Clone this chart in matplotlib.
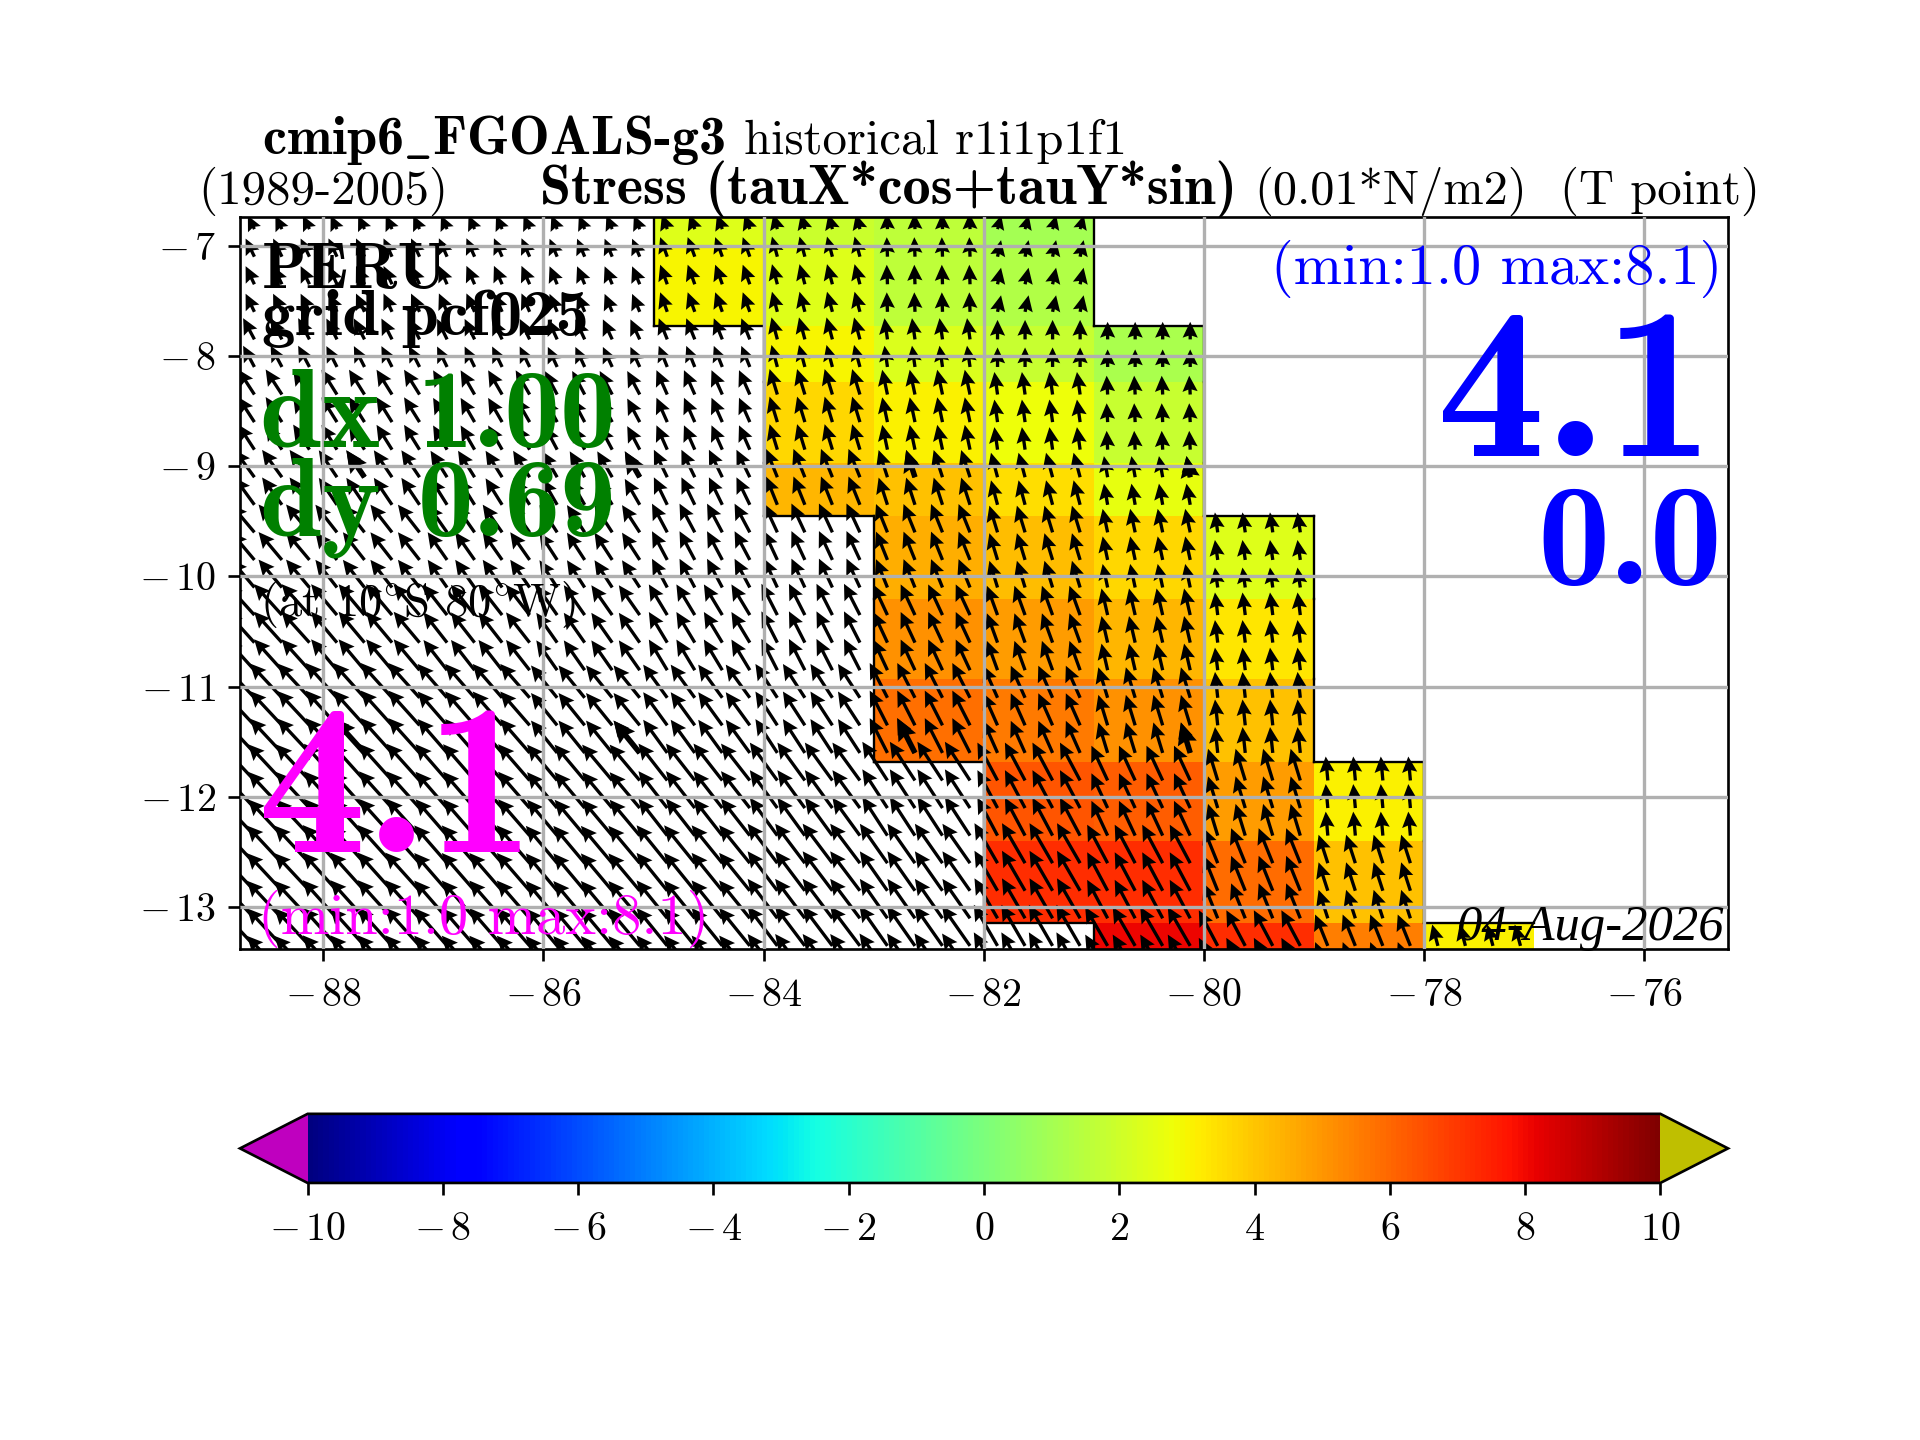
import numpy as np
import matplotlib
matplotlib.use('Agg')
import matplotlib.pyplot as plt

plt.rcParams['font.family'] = 'cmr10'
plt.rcParams['mathtext.fontset'] = 'cm'
plt.rcParams['axes.formatter.use_mathtext'] = True

nan = np.nan

# boites du champ (lon ouest de chaque colonne, bords en latitude)
lon_edges = [-89, -88, -87, -86, -85, -84, -83, -82, -81, -80, -79, -78, -77]
lat_edges = [-6.5, -7.0, -7.733, -8.233, -8.967, -9.456, -10.2, -10.933, -11.678, -12.4, -13.144, -13.5]

# stress le long de la cote (0.01*N/m2)
stress = [
    [nan, nan, nan, nan, 2.4, 1.9, 1.6, 1.0, nan, nan, nan, nan],
    [nan, nan, nan, nan, 3.0, 2.4, 1.6, 1.3, nan, nan, nan, nan],
    [nan, nan, nan, nan, nan, 3.0, 2.3, 1.8, 1.1, nan, nan, nan],
    [nan, nan, nan, nan, nan, 3.6, 3.1, 2.8, 1.8, nan, nan, nan],
    [nan, nan, nan, nan, nan, 4.3, 4.1, 3.5, 2.6, nan, nan, nan],
    [nan, nan, nan, nan, nan, nan, 4.5, 4.2, 3.6, 2.4, nan, nan],
    [nan, nan, nan, nan, nan, nan, 5.1, 4.9, 4.3, 3.3, nan, nan],
    [nan, nan, nan, nan, nan, nan, 5.8, 5.6, 5.1, 4.1, nan, nan],
    [nan, nan, nan, nan, nan, nan, nan, 6.4, 6.2, 4.9, 3.1, nan],
    [nan, nan, nan, nan, nan, nan, nan, 7.2, 7.2, 5.9, 4.1, nan],
    [nan, nan, nan, nan, nan, nan, nan, nan, 8.1, 7.2, 5.5, 3.1],
]

# module et direction des fleches (degres a l'ouest du nord)
arrow_mag = [
    [2.3, 2.3, 2.3, 2.3, 2.4, 2.4, 2.4, 2.2, nan, nan, nan, nan],
    [3.1, 3.1, 3.1, 3.0, 3.2, 3.2, 3.0, 2.6, nan, nan, nan, nan],
    [3.7, 3.6, 3.5, 3.4, 3.5, 3.5, 3.3, 3.0, 2.7, nan, nan, nan],
    [4.6, 4.5, 4.3, 4.1, 4.1, 4.1, 3.9, 3.5, 2.9, nan, nan, nan],
    [5.2, 5.0, 4.8, 4.6, 4.7, 4.7, 4.4, 3.9, 3.3, nan, nan, nan],
    [5.6, 5.4, 5.2, 5.0, 5.0, 4.9, 4.7, 4.3, 3.7, 3.1, nan, nan],
    [6.4, 6.2, 5.9, 5.6, 5.5, 5.4, 5.2, 4.8, 4.2, 3.5, nan, nan],
    [7.2, 7.2, 6.9, 6.4, 6.3, 6.2, 6.0, 5.4, 4.9, 4.0, nan, nan],
    [7.6, 7.6, 7.4, 7.2, 7.2, 7.2, 7.1, 6.6, 5.9, 5.1, 3.7, nan],
    [7.9, 7.9, 7.7, 7.5, 7.5, 7.6, 7.4, 7.1, 6.7, 5.8, 4.6, nan],
    [7.9, 7.9, 7.7, 7.5, 7.5, 7.6, 7.5, 7.3, 6.9, 6.2, 5.2, 3.4],
]
arrow_ang = [
    [26, 25, 24, 23, 20, 15, 2, -15, nan, nan, nan, nan],
    [26, 25, 24, 23, 20, 15, 2, -12, nan, nan, nan, nan],
    [28, 27, 26, 25, 22, 15, 8, 0, 0, nan, nan, nan],
    [33, 32, 30, 28, 24, 17, 12, 8, 3, nan, nan, nan],
    [36, 34, 32, 30, 26, 22, 18, 15, 10, nan, nan, nan],
    [40, 38, 35, 33, 28, 25, 22, 17, 12, 8, nan, nan],
    [42, 40, 38, 35, 31, 27, 25, 20, 13, 7, nan, nan],
    [43, 42, 41, 39, 36, 33, 27, 24, 17, 6, nan, nan],
    [43, 42, 41, 40, 38, 36, 33, 28, 25, 17, 5, nan],
    [43, 42, 41, 40, 39, 37, 35, 30, 28, 22, 18, nan],
    [43, 42, 41, 40, 39, 37, 35, 30, 30, 28, 22, 15],
]

# points des fleches
arrow_lons = np.arange(-88.625, -76.9, 0.25)
arrow_lats = np.arange(-6.85, -13.7, -0.25)
# fleches epaissies
thick_lons = [-87.625, -85.125, -82.625, -80.125]
thick_lats = [-9.1, -11.6]

xticks = [-88, -86, -84, -82, -80, -78, -76]
yticks = [-13, -12, -11, -10, -9, -8, -7]
cbar_ticks = [-10, -8, -6, -4, -2, 0, 2, 4, 6, 8, 10]

stress = np.array(stress)
arrow_mag = np.array(arrow_mag)
arrow_ang = np.array(arrow_ang)
lon_edges = np.array(lon_edges)
lat_edges = np.array(lat_edges)

PX = 6.5  # pixels par unite


def arrow_field(lons, lats):
    ix = np.searchsorted(lon_edges, lons, side='right') - 1
    iy = np.searchsorted(-lat_edges, -np.array(lats), side='right') - 1
    iy = np.clip(iy, 0, len(lat_edges) - 2)
    mag = arrow_mag[np.ix_(iy, ix)]
    ang = np.deg2rad(arrow_ang[np.ix_(iy, ix)])
    X, Y = np.meshgrid(lons, lats)
    return X, Y, -mag * np.sin(ang), mag * np.cos(ang)


def tick_text(v):
    # signe moins plus large, comme en latex
    return rf'$-\,{-v}$' if v < 0 else f'${v}$'


fig = plt.figure(figsize=(8, 6), dpi=240)
ax = fig.add_axes([0.125, 0.341, 0.775, 0.508])

cmap = plt.get_cmap('jet').copy()
cmap.set_under('#bf00bf')
cmap.set_over('#bfbf00')
mesh = ax.pcolormesh(lon_edges, lat_edges, np.ma.masked_invalid(stress), cmap=cmap, vmin=-10, vmax=10)

# contour du masque
filled = ~np.isnan(stress)
for j in range(filled.shape[0]):
    for i in range(filled.shape[1]):
        if j + 1 < filled.shape[0] and filled[j, i] != filled[j + 1, i]:
            ax.plot(lon_edges[i:i + 2], [lat_edges[j + 1]] * 2, color='k', lw=0.7, zorder=1.5)
        if i + 1 < filled.shape[1] and filled[j, i] != filled[j, i + 1]:
            ax.plot([lon_edges[i + 1]] * 2, lat_edges[j:j + 2], color='k', lw=0.7, zorder=1.5)

X, Y, U, V = arrow_field(arrow_lons, arrow_lats)
ax.quiver(X, Y, np.ma.masked_invalid(U), np.ma.masked_invalid(V), angles='uv', scale_units='dots', scale=1 / PX,
          units='dots', width=3.3, headwidth=4.6, headlength=4.8, headaxislength=4.2, color='k', zorder=1.8)
X2, Y2, U2, V2 = arrow_field(np.array(thick_lons), thick_lats)
ax.quiver(X2, Y2, U2, V2, angles='uv', scale_units='dots', scale=1 / PX,
          units='dots', width=5.5, headwidth=3.6, headlength=4, headaxislength=3.6, color='k', zorder=1.9)

ax.set_xlim(-88.756, -75.24)
ax.set_ylim(-13.378, -6.744)
ax.set_xticks(xticks)
ax.set_xticklabels([tick_text(v) for v in xticks], fontsize=12)
ax.set_yticks(yticks)
ax.set_yticklabels([tick_text(v) for v in yticks], fontsize=12)
ax.tick_params(axis='x', pad=5.3)
ax.grid(True, lw=1.0)
ax.set_axisbelow(False)

cax = fig.add_axes([0.125, 0.1785, 0.775, 0.048])
cbar = fig.colorbar(mesh, cax=cax, orientation='horizontal', extend='both')
cbar.set_ticks(cbar_ticks)
cbar.set_ticklabels([tick_text(v) for v in cbar_ticks], fontsize=12)
cax.tick_params(axis='x', pad=5.3)


def put(x, y, s, **kw):
    # x, y en pixels de la figure, y depuis le haut
    fig.text(x / 1920, 1 - y / 1440, s, va='baseline', **kw)


put(262, 154, r'cmip6$\_$FGOALS-g3', family='cmb10', fontsize=16.3)
put(744, 154, 'historical r1i1p1f1', fontsize=14.6)
put(198, 204, '(1989-2005)', fontsize=14.7)
put(540, 204, 'Stress (tauX*cos+tauY*sin)', family='cmb10', fontsize=16.8)
put(1254, 204, '(0.01*N/m2)', fontsize=14.5)
put(1760, 204, '(T point)', fontsize=14.6, ha='right')

put(262, 288, 'PERU', family='cmb10', fontsize=19.5)
put(262, 335, 'grid pcf025', family='cmb10', fontsize=20)
put(260, 447, 'dx 1.00', family='cmb10', fontsize=33.4, color='green')
put(260, 535, 'dy 0.69', family='cmb10', fontsize=33.4, color='green')
put(260, 616, r'(at 10$^{\circ}$S 80$^{\circ}$W)', fontsize=14, zorder=4)
put(258, 852, '4.1', family='cmb10', fontsize=65, color='magenta')
put(258, 934, '(min:1.0 max:8.1)', fontsize=17.5, color='magenta')

put(1722, 284, '(min:1.0 max:8.1)', fontsize=17.5, color='blue', ha='right')
put(1714, 456, '4.1', family='cmb10', fontsize=65, color='blue', ha='right')
put(1722, 584, '0.0', family='cmb10', fontsize=43.5, color='blue', ha='right')
put(1724, 940, '04-Aug-2026', family='Liberation Serif', style='italic', fontsize=15.2, ha='right')

fig.savefig('out.png', dpi=240)
